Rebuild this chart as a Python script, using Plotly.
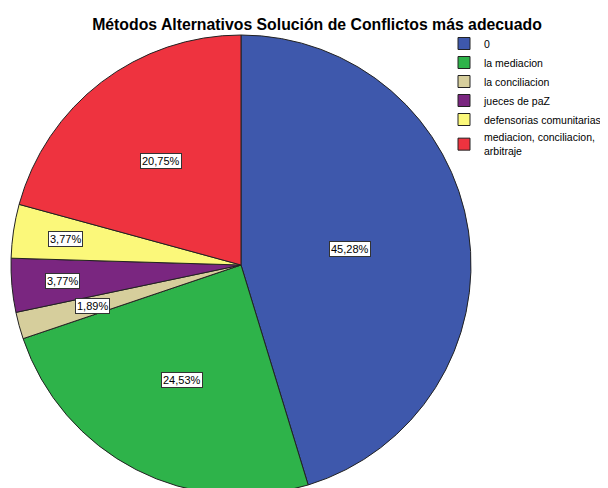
import math
import plotly.graph_objects as go

categories = ["0", "la mediacion", "la conciliacion", "jueces de paZ",
              "defensorias comunitarias", "mediacion, conciliacion,<br>arbitraje"]
counts = [24, 13, 1, 2, 2, 11]
colors = ["#3E58AC", "#2EB34A", "#D6CE9C", "#7A2680", "#FBF87A", "#EE333F"]
label_radius = [0.48, 0.56, 0.67, 0.78, 0.77, 0.57]

W, H = 608, 492
L, R_, T, B = 3, 0, 27, 5
PW, PH = W - L - R_, H - T - B
PIE = 460

fig = go.Figure(go.Pie(
    labels=categories, values=counts, sort=False, direction="clockwise",
    rotation=0, textinfo="none", hoverinfo="label+percent",
    domain=dict(x=[0, PIE / PW], y=[0, 1]),
    marker=dict(colors=colors, line=dict(color="#222222", width=1)),
))

total = sum(counts)
cx, cy = PIE / PW / 2, 0.5
rx, ry = PIE / PW / 2, 0.5
cum = 0
annotations = []
for v, rf in zip(counts, label_radius):
    mid = (cum + v / 2) / total * 2 * math.pi
    cum += v
    pct = f"{v / total * 100:.2f}%".replace(".", ",")
    annotations.append(dict(
        x=cx + rf * rx * math.sin(mid), y=cy + rf * ry * math.cos(mid),
        xref="paper", yref="paper", xanchor="center", yanchor="middle",
        text=pct, showarrow=False,
        font=dict(family="Liberation Sans, Arial", size=11, color="#000"),
        bgcolor="white", bordercolor="#333333", borderwidth=1, borderpad=1,
    ))

fig.update_layout(
    width=W, height=H,
    margin=dict(l=L, r=R_, t=T, b=B),
    paper_bgcolor="white", plot_bgcolor="white",
    title=dict(text="<b>Métodos Alternativos Solución de Conflictos más adecuado</b>",
               x=309 / W, xanchor="center", y=1 - 16.5 / H, yanchor="middle",
               font=dict(family="Liberation Sans, Arial", size=15.8, color="#000")),
    legend=dict(x=(436 - L) / PW, y=1 + 6 / PH, xanchor="left", yanchor="top",
                font=dict(family="Liberation Sans, Arial", size=10.5, color="#000"),
                bgcolor="rgba(0,0,0,0)", itemwidth=30, tracegroupgap=0,
                valign="middle"),
    annotations=annotations,
)

fig.write_html("out.html")
